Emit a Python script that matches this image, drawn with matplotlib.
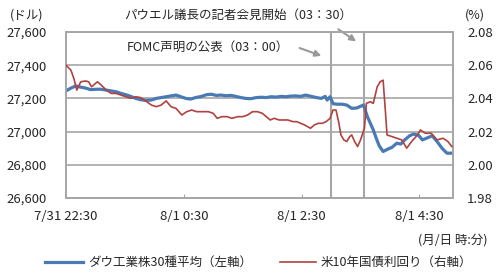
import matplotlib.pyplot as plt
from matplotlib.ticker import FuncFormatter

plt.rcParams['font.family'] = ['Noto Sans CJK JP', 'DejaVu Sans']

# minutes since 7/31 22:30
dow_min = [0, 5, 10, 15, 20, 25, 31, 36, 41, 46, 51, 56, 61, 66, 71, 76, 81, 87, 92, 97,
           102, 107, 112, 117, 122, 127, 132, 138, 143, 148, 153, 158, 163, 168, 173, 178,
           183, 188, 194, 199, 204, 209, 214, 219, 224, 229, 234, 239, 244, 250, 255, 260,
           264, 266, 269, 272, 276, 281, 286, 291, 296, 303, 307, 310, 313, 316, 319, 323,
           328, 332, 337, 341, 345, 350, 354, 359, 363, 368, 373, 378, 383, 388, 393]
dow_val = [27245, 27262, 27275, 27268, 27262, 27253, 27255, 27255, 27250, 27245, 27240,
           27230, 27222, 27212, 27200, 27192, 27188, 27190, 27200, 27205, 27210, 27215,
           27220, 27210, 27200, 27196, 27205, 27212, 27222, 27225, 27218, 27220, 27216,
           27218, 27212, 27205, 27200, 27198, 27205, 27207, 27205, 27210, 27208, 27212,
           27210, 27214, 27215, 27212, 27220, 27212, 27205, 27200, 27212, 27190, 27210,
           27168, 27165, 27165, 27160, 27140, 27142, 27160, 27090, 27050, 27010, 26960,
           26915, 26880, 26895, 26905, 26930, 26925, 26950, 26975, 26985, 26978, 26950,
           26962, 26975, 26940, 26900, 26870, 26870]

ust_min = [0, 5, 8, 11, 15, 20, 23, 26, 32, 36, 41, 46, 51, 56, 61, 66, 71, 76, 81, 87,
           92, 97, 102, 107, 112, 118, 123, 128, 133, 140, 145, 150, 154, 159, 164, 169,
           175, 180, 185, 190, 195, 200, 204, 208, 212, 217, 222, 226, 231, 235, 239, 243,
           249, 253, 257, 261, 265, 269, 272, 275, 278, 280, 283, 286, 289, 291, 294, 297,
           300, 304, 306, 310, 313, 317, 320, 323, 325, 327, 332, 337, 342, 347, 352, 358,
           361, 366, 372, 378, 384, 389, 393]
ust_val = [2.060, 2.057, 2.052, 2.045, 2.050, 2.0505, 2.050, 2.047, 2.050, 2.048, 2.045,
           2.043, 2.043, 2.042, 2.041, 2.040, 2.041, 2.0405, 2.0385, 2.036, 2.035, 2.036,
           2.0385, 2.035, 2.034, 2.030, 2.032, 2.033, 2.032, 2.032, 2.032, 2.031, 2.028,
           2.029, 2.029, 2.028, 2.029, 2.029, 2.030, 2.032, 2.032, 2.031, 2.029, 2.027,
           2.028, 2.027, 2.027, 2.027, 2.026, 2.026, 2.025, 2.024, 2.022, 2.024, 2.025,
           2.025, 2.026, 2.028, 2.033, 2.033, 2.025, 2.018, 2.015, 2.014, 2.017, 2.018,
           2.014, 2.011, 2.015, 2.022, 2.037, 2.038, 2.037, 2.047, 2.050, 2.051, 2.035,
           2.018, 2.017, 2.016, 2.015, 2.010, 2.014, 2.018, 2.021, 2.019, 2.019, 2.015,
           2.016, 2.014, 2.011]

xtick_pos = [0, 120, 240, 360]
xtick_lab = ['7/31 22:30', '8/1 0:30', '8/1 2:30', '8/1 4:30']
left_ticks = [26600, 26800, 27000, 27200, 27400, 27600]
right_ticks = [1.98, 2.00, 2.02, 2.04, 2.06, 2.08]
events = [270, 304]  # FOMC statement, Powell press conference

grid_c = '#a6a6a6'
txt_c = '#262626'
blue = '#4a7ab4'
red = '#b0423f'

fig = plt.figure(figsize=(5.0, 2.77), dpi=100)
ax = fig.add_axes([0.132, 0.2852, 0.7746, 0.5993])
ax2 = ax.twinx()

ax.set_xlim(0, 394.5)
ax.set_ylim(26600, 27600)
ax.set_yticks(left_ticks)
ax.yaxis.set_major_formatter(FuncFormatter(lambda v, p: f'{int(v):,}'))
ax.grid(axis='y', color=grid_c, linewidth=1.2)
ax.set_axisbelow(True)
for ev in events:
    ax.axvline(ev, color=grid_c, linewidth=1.5, zorder=1)

ax.plot(dow_min, dow_val, color=blue, linewidth=2.3, zorder=3)
ax2.plot(ust_min, ust_val, color=red, linewidth=1.2, zorder=3)

ax2.set_ylim(1.98, 2.08)
ax2.set_yticks(right_ticks)
ax2.yaxis.set_major_formatter(FuncFormatter(lambda v, p: f'{v:.2f}'))

ax.set_xticks(xtick_pos)
ax.set_xticklabels(xtick_lab)
ax.tick_params(axis='x', direction='in', length=3, color=grid_c, labelsize=9.5,
               labelcolor=txt_c, pad=9)
ax.tick_params(axis='y', length=0, labelsize=9.5, labelcolor=txt_c, pad=14)
ax2.tick_params(axis='y', length=0, labelsize=9.5, labelcolor=txt_c, pad=10)
for a in (ax, ax2):
    for s in a.spines.values():
        s.set_color(grid_c)
        s.set_linewidth(1.2)

fig.text(0.02, 0.945, '(ドル)', fontsize=9, color=txt_c, va='center')
fig.text(0.93, 0.945, '(%)', fontsize=9, color=txt_c, va='center')

fig.text(0.476, 0.945, 'パウエル議長の記者会見開始（03：30）', fontsize=9, color=txt_c,
         ha='center', va='center')
fig.text(0.416, 0.83, 'FOMC声明の公表（03：00）', fontsize=9, color=txt_c,
         ha='center', va='center')
ax.annotate('', xy=(0.717, 0.845), xytext=(0.672, 0.9),
            xycoords='figure fraction',
            arrowprops=dict(arrowstyle='-|>', color='#999999', lw=1.5, mutation_scale=9))
ax.annotate('', xy=(0.648, 0.795), xytext=(0.594, 0.83),
            xycoords='figure fraction',
            arrowprops=dict(arrowstyle='-|>', color='#999999', lw=1.5, mutation_scale=9))

fig.text(0.975, 0.133, '(月/日 時:分)', fontsize=9, color=txt_c, ha='right', va='center')

fig.lines.append(plt.Line2D([0.09, 0.166], [0.054, 0.054], color=blue, linewidth=2.3,
                            transform=fig.transFigure))
fig.text(0.176, 0.054, 'ダウ工業株30種平均（左軸）', fontsize=9, color=txt_c, va='center')
fig.lines.append(plt.Line2D([0.56, 0.632], [0.054, 0.054], color=red, linewidth=1.2,
                            transform=fig.transFigure))
fig.text(0.642, 0.054, '米10年国債利回り（右軸）', fontsize=9, color=txt_c, va='center')

fig.savefig('out.png', dpi=100, facecolor='white')
